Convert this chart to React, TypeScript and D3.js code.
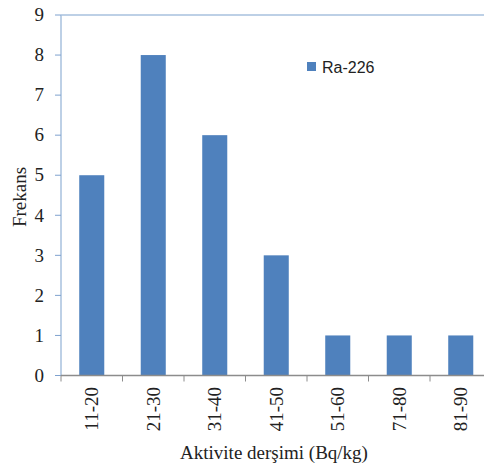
import React from "react";
import * as d3 from "d3";

const categories = ["11-20", "21-30", "31-40", "41-50", "51-60", "71-80", "81-90"];
const values = [5, 8, 6, 3, 1, 1, 1];
const yTicks = [0, 1, 2, 3, 4, 5, 6, 7, 8, 9];
const seriesName = "Ra-226";

const W = 484;
const H = 471;
const left = 61;
const bandW = 61.5;
const top = 15;
const bottom = 375.5;

export default function App() {
  const x = d3
    .scaleBand<string>()
    .domain(categories)
    .range([left, left + bandW * categories.length])
    .paddingInner(0.593)
    .paddingOuter(0.2965);
  const y = d3.scaleLinear().domain([0, 9]).range([bottom, top]);
  const boundaries = d3.range(categories.length + 1).map((i) => left + i * bandW);
  const serif = "'Liberation Serif', 'Times New Roman', serif";
  return (
    <svg
      width={W}
      height={H}
      style={{ position: "absolute", left: 0, top: 0, background: "#fff" }}
    >
      {/* top frame line */}
      <line x1={left} x2={W} y1={y(9)} y2={y(9)} stroke="#A7C0DE" strokeWidth={1.5} />
      {/* left axis */}
      <line x1={left} x2={left} y1={y(9)} y2={bottom} stroke="#A7C0DE" strokeWidth={1.5} />
      {yTicks.map((t) => (
        <g key={t}>
          <line x1={55} x2={left} y1={y(t)} y2={y(t)} stroke="#7FA2CF" strokeWidth={1} />
          <text
            x={44}
            y={y(t)}
            dy="0.33em"
            textAnchor="end"
            fontFamily={serif}
            fontSize={19}
            fill="#222"
          >
            {t}
          </text>
        </g>
      ))}
      {/* bars */}
      {categories.map((c, i) => (
        <rect
          key={c}
          x={x(c)}
          y={y(values[i])}
          width={x.bandwidth()}
          height={bottom - y(values[i])}
          fill="#4F81BD"
        />
      ))}
      {/* bottom axis */}
      <line x1={left} x2={W} y1={bottom} y2={bottom} stroke="#8C8C8C" strokeWidth={1.5} />
      {boundaries.map((b, i) => (
        <line key={i} x1={b} x2={b} y1={bottom} y2={bottom + 6} stroke="#8C8C8C" strokeWidth={1} />
      ))}
      {categories.map((c) => {
        const cx = (x(c) as number) + x.bandwidth() / 2;
        return (
          <text
            key={c}
            transform={`translate(${cx + 6.5},${387}) rotate(-90)`}
            textAnchor="end"
            fontFamily={serif}
            fontSize={19}
            fill="#222"
          >
            {c}
          </text>
        );
      })}
      {/* axis titles */}
      <text
        transform={`translate(${26},${197}) rotate(-90)`}
        textAnchor="middle"
        fontFamily={serif}
        fontSize={19}
        fill="#222"
      >
        Frekans
      </text>
      <text x={274} y={459} textAnchor="middle" fontFamily={serif} fontSize={19} fill="#222">
        Aktivite derşimi (Bq/kg)
      </text>
      {/* legend */}
      <rect x={307} y={62} width={9} height={9} fill="#4F81BD" />
      <text x={322} y={73} fontFamily="'Liberation Sans', Arial, sans-serif" fontSize={16} fill="#222">
        {seriesName}
      </text>
    </svg>
  );
}
